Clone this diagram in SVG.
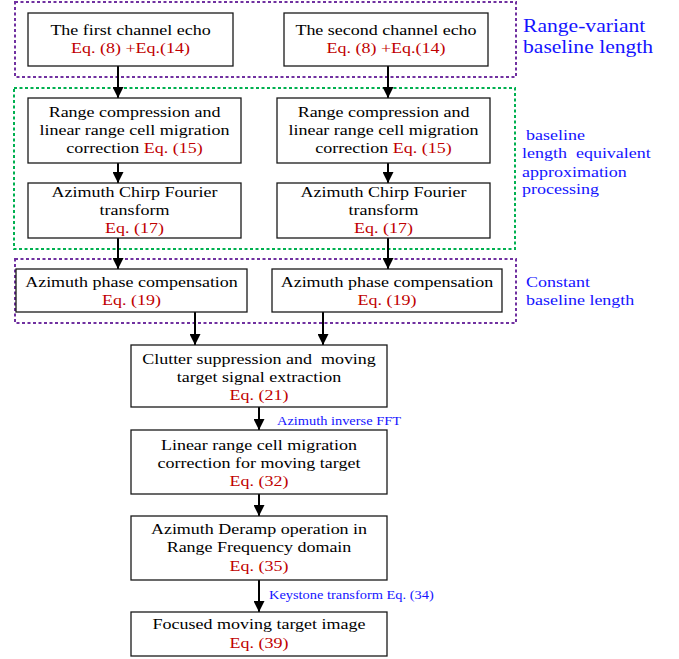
<svg xmlns="http://www.w3.org/2000/svg" width="679" height="659" viewBox="0 0 679 659" font-family="'Liberation Serif', 'Times New Roman', 'DejaVu Serif', serif">
<style>
text{font-family:'Liberation Serif','Times New Roman','DejaVu Serif',serif;}
.t{font-size:15px;fill:#000;text-anchor:middle;}
.r{fill:#C00000;}
.lbl{font-size:15px;fill:#1414FF;}
.big{font-size:18px;fill:#1414FF;}
.sm{font-size:12px;fill:#1414FF;}
.box{fill:#fff;stroke:#1a1a1a;stroke-width:1.3;}
.pur{fill:none;stroke:#7030A0;stroke-width:2;stroke-dasharray:3 2.5;}
.grn{fill:none;stroke:#00B050;stroke-width:2;stroke-dasharray:3 2.5;}
.con{stroke:#000;stroke-width:2;fill:none;marker-end:url(#ah);}
</style>
<defs>
<marker id="ah" viewBox="0 0 10 10" refX="10" refY="5" markerWidth="11" markerHeight="11" markerUnits="userSpaceOnUse" orient="auto">
<path d="M0,0 L10,5 L0,10 z" fill="#000"/>
</marker>
</defs>
<rect width="679" height="659" fill="#fff"/>
<g id="regions">
<rect class="pur" x="15" y="2" width="501" height="75"/>
<rect class="grn" x="14" y="88" width="501" height="161"/>
<rect class="pur" x="15" y="259" width="501" height="64"/>
<text class="big" transform="matrix(1.2 0 0 1 523 32)">Range-variant</text>
<text class="big" transform="matrix(1.2 0 0 1 523 53)">baseline length</text>
<text class="lbl" transform="matrix(1.2 0 0 1 526 140)">baseline</text>
<text class="lbl" transform="matrix(1.2 0 0 1 522 158)" xml:space="preserve">length  equivalent</text>
<text class="lbl" transform="matrix(1.2 0 0 1 522 177)">approximation</text>
<text class="lbl" transform="matrix(1.2 0 0 1 522 194)">processing</text>
<text class="lbl" transform="matrix(1.2 0 0 1 526 287)">Constant</text>
<text class="lbl" transform="matrix(1.2 0 0 1 526 305)">baseline length</text>
</g>
<g id="connectors">
<line class="con" x1="118" y1="66" x2="118" y2="98"/>
<line class="con" x1="388" y1="66" x2="388" y2="98"/>
<line class="con" x1="118" y1="163" x2="118" y2="183"/>
<line class="con" x1="388" y1="163" x2="388" y2="183"/>
<line class="con" x1="118" y1="238" x2="118" y2="269"/>
<line class="con" x1="388" y1="238" x2="388" y2="269"/>
<line class="con" x1="195" y1="312" x2="195" y2="345"/>
<line class="con" x1="323" y1="312" x2="323" y2="345"/>
<line class="con" x1="259" y1="407" x2="259" y2="430"/>
<line class="con" x1="259" y1="494" x2="259" y2="516"/>
<line class="con" x1="259" y1="580" x2="259" y2="612"/>
<text class="sm" transform="matrix(1.2 0 0 1 277 425)">Azimuth inverse FFT</text>
<text class="sm" transform="matrix(1.2 0 0 1 269 599)">Keystone transform Eq. (34)</text>
</g>
<g id="n1">
<rect class="box" x="28" y="13" width="205" height="53"/>
<text class="t" transform="matrix(1.2 0 0 1 130.5 35)">The first channel echo</text>
<text class="t r" transform="matrix(1.2 0 0 1 130.5 53)">Eq. (8) +Eq.(14)</text>
</g>
<g id="n2">
<rect class="box" x="284" y="13" width="204" height="53"/>
<text class="t" transform="matrix(1.2 0 0 1 386 35)">The second channel echo</text>
<text class="t r" transform="matrix(1.2 0 0 1 386 53)">Eq. (8) +Eq.(14)</text>
</g>
<g id="n3">
<rect class="box" x="28" y="98" width="213" height="65"/>
<text class="t" transform="matrix(1.2 0 0 1 134.5 117)">Range compression and</text>
<text class="t" transform="matrix(1.2 0 0 1 134.5 135)">linear range cell migration</text>
<text class="t" transform="matrix(1.2 0 0 1 134.5 153)">correction <tspan class="r">Eq. (15)</tspan></text>
</g>
<g id="n4">
<rect class="box" x="277" y="98" width="213" height="65"/>
<text class="t" transform="matrix(1.2 0 0 1 383.5 117)">Range compression and</text>
<text class="t" transform="matrix(1.2 0 0 1 383.5 135)">linear range cell migration</text>
<text class="t" transform="matrix(1.2 0 0 1 383.5 153)">correction <tspan class="r">Eq. (15)</tspan></text>
</g>
<g id="n5">
<rect class="box" x="28" y="183" width="213" height="55"/>
<text class="t" transform="matrix(1.2 0 0 1 134.5 197)">Azimuth Chirp Fourier</text>
<text class="t" transform="matrix(1.2 0 0 1 134.5 215)">transform</text>
<text class="t r" transform="matrix(1.2 0 0 1 134.5 233)">Eq. (17)</text>
</g>
<g id="n6">
<rect class="box" x="277" y="183" width="213" height="55"/>
<text class="t" transform="matrix(1.2 0 0 1 383.5 197)">Azimuth Chirp Fourier</text>
<text class="t" transform="matrix(1.2 0 0 1 383.5 215)">transform</text>
<text class="t r" transform="matrix(1.2 0 0 1 383.5 233)">Eq. (17)</text>
</g>
<g id="n7">
<rect class="box" x="16" y="269" width="231" height="43"/>
<text class="t" transform="matrix(1.2 0 0 1 131.5 287)">Azimuth phase compensation</text>
<text class="t r" transform="matrix(1.2 0 0 1 131.5 305)">Eq. (19)</text>
</g>
<g id="n8">
<rect class="box" x="272" y="269" width="230" height="43"/>
<text class="t" transform="matrix(1.2 0 0 1 387 287)">Azimuth phase compensation</text>
<text class="t r" transform="matrix(1.2 0 0 1 387 305)">Eq. (19)</text>
</g>
<g id="n9">
<rect class="box" x="131" y="345" width="256" height="62"/>
<text class="t" transform="matrix(1.2 0 0 1 259 364)" xml:space="preserve">Clutter suppression and  moving</text>
<text class="t" transform="matrix(1.2 0 0 1 259 382)">target signal extraction</text>
<text class="t r" transform="matrix(1.2 0 0 1 259 400)">Eq. (21)</text>
</g>
<g id="n10">
<rect class="box" x="131" y="430" width="256" height="64"/>
<text class="t" transform="matrix(1.2 0 0 1 259 450)">Linear range cell migration</text>
<text class="t" transform="matrix(1.2 0 0 1 259 468)">correction for moving target</text>
<text class="t r" transform="matrix(1.2 0 0 1 259 486)">Eq. (32)</text>
</g>
<g id="n11">
<rect class="box" x="131" y="516" width="256" height="64"/>
<text class="t" transform="matrix(1.2 0 0 1 259 534)">Azimuth Deramp operation in</text>
<text class="t" transform="matrix(1.2 0 0 1 259 552)">Range Frequency domain</text>
<text class="t r" transform="matrix(1.2 0 0 1 259 571)">Eq. (35)</text>
</g>
<g id="n12">
<rect class="box" x="131" y="612" width="256" height="44"/>
<text class="t" transform="matrix(1.2 0 0 1 259 629)">Focused moving target image</text>
<text class="t r" transform="matrix(1.2 0 0 1 259 648)">Eq. (39)</text>
</g>
</svg>
